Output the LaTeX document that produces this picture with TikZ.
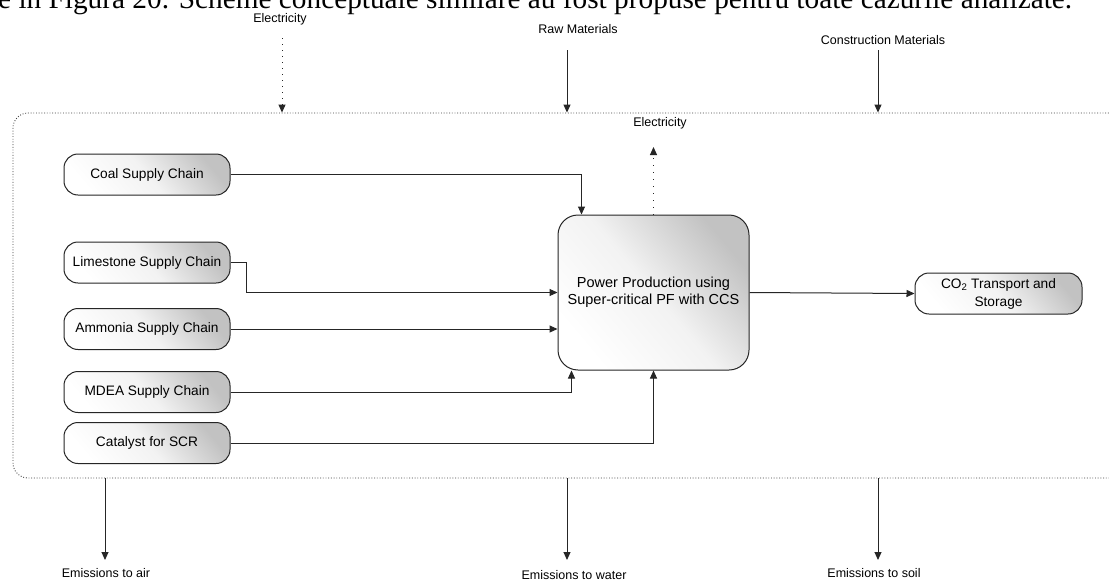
\documentclass[tikz,border=0pt]{standalone}
\usepackage{fontspec}
\setmainfont{Liberation Sans}
\newfontfamily\pageserif{Liberation Serif}
\usetikzlibrary{arrows.meta,calc}
\begin{document}
\begin{tikzpicture}[x=1pt,y=-1pt,
 box/.style={draw=black!85, line width=1pt, top color=black!24, bottom color=white, middle color=black!5, shading angle=-50, align=center, font=\fontsize{13.7}{17}\selectfont, inner sep=0pt},
 supply/.style={box, rounded corners=14pt, minimum width=166pt, minimum height=41pt},
 conn/.style={-{Triangle[length=8pt,width=7pt]}, line width=1pt, draw=black!85},
 elec/.style={-{Triangle[length=8pt,width=7pt]}, line width=1pt, draw=black!85, dash pattern=on 1pt off 5pt},
 boundary/.style={draw=black!75, line width=0.9pt, dash pattern=on 0.9pt off 1.8pt, rounded corners=15pt, inner sep=0pt},
 lbl/.style={font=\fontsize{12.5}{15}\selectfont, inner sep=0pt},
]
\useasboundingbox (0,0) rectangle (1109,581);
\clip (0,0) rectangle (1109,581);
\fill[white] (0,0) rectangle (1109,581);

\node[font=\pageserif\fontsize{29.3}{32}\selectfont, anchor=base west, inner sep=0pt] (caption) at (-2,8.5) {e în Figura 20. Scheme conceptuale similare au fost propuse pentru toate cazurile analizate.};

% system boundary
\node[boundary, minimum width=1127pt, minimum height=365pt] (sys) at (576.5,295.5) {};

% supply chains
\node[supply] (coal) at (147,174.5) {Coal Supply Chain};
\node[supply] (lime) at (147,262.5) {Limestone Supply Chain};
\node[supply] (amm) at (147,329) {Ammonia Supply Chain};
\node[supply] (mdea) at (147,392) {MDEA Supply Chain};
\node[supply] (cat) at (147,443) {Catalyst for SCR};

\node[box, rounded corners=20pt, minimum width=191pt, minimum height=155pt, font=\fontsize{14.5}{17}\selectfont] (main) at (653.5,292.5) {Power Production using\\Super-critical PF with CCS};
\node[supply, minimum width=167pt, font=\fontsize{13.7}{18}\selectfont] (co2) at (998.5,293.5) {CO\textsubscript{2} Transport and\\Storage};

% connectors
\draw[conn] (coal.east) -| ($(main.north west)+(24,0)$);
\draw[conn] (lime.east) -- ++(16,0) |- (main.west);
\draw[conn] (amm.east) -- (amm.east -| main.west);
\draw[conn] (mdea.east) -| ($(main.south west)+(14,0)$);
\draw[conn] (cat.east) -| (main.south);
\draw[conn] (main.east) -- (co2.west);

% electricity out
\node[lbl] (elecout) at (660,123) {Electricity};
\coordinate (eo) at (653.5,147);
\draw[elec, dash pattern=on 1pt off 6pt] (main.north) -- (eo);

% inputs
\node[lbl] (elecin) at (280,19) {Electricity};
\node[lbl] (raw) at (578,29) {Raw Materials};
\node[lbl] (constr) at (883,40) {Construction Materials};
\coordinate (ei) at (282,38);
\coordinate (ri) at (567,50);
\coordinate (ci) at (878,50);
\draw[elec] (ei) -- (ei |- sys.north);
\draw[conn] (ri) -- (ri |- sys.north);
\draw[conn] (ci) -- (ci |- sys.north);

% outputs
\coordinate (ea) at (105,560);
\coordinate (ew) at (567,560);
\coordinate (es) at (878,560);
\draw[conn] (ea |- sys.south) -- (ea);
\draw[conn] (ew |- sys.south) -- (ew);
\draw[conn] (es |- sys.south) -- (es);
\node[lbl] (air) at (106,573.5) {Emissions to air};
\node[lbl] (water) at (574,575) {Emissions to water};
\node[lbl] (soil) at (874,573.5) {Emissions to soil};
\end{tikzpicture}
\end{document}
